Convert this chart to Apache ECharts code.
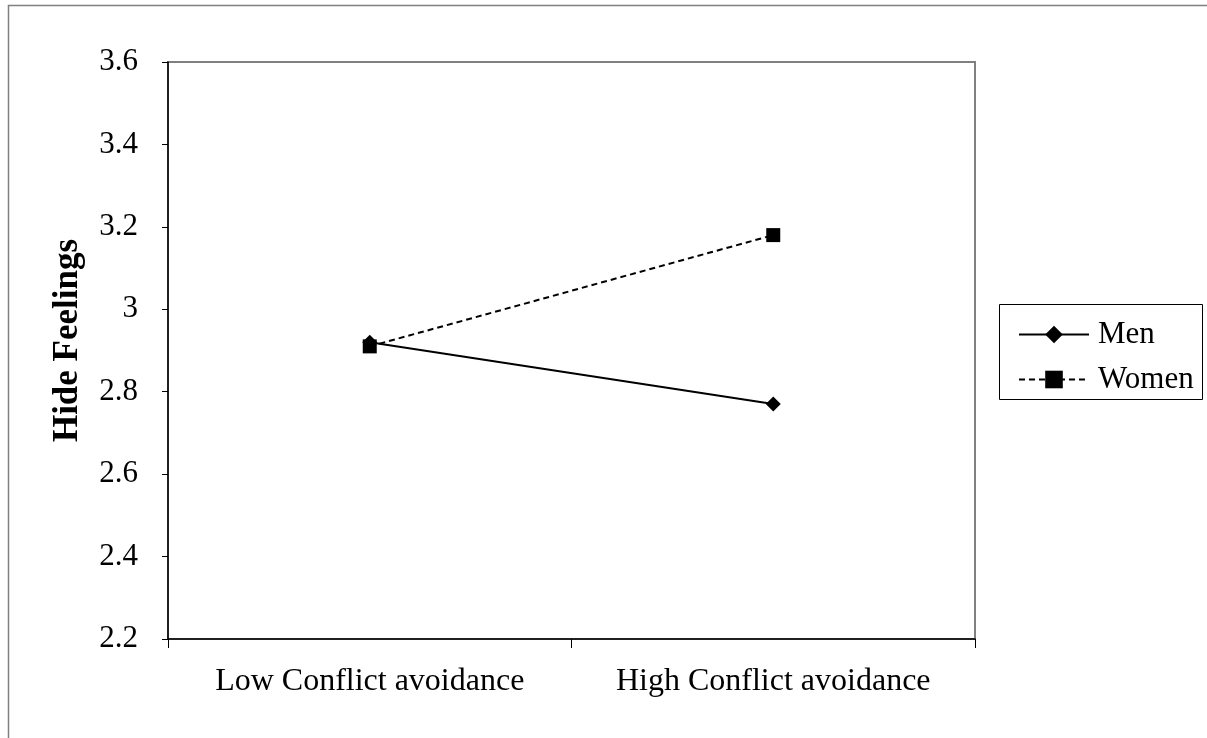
<!DOCTYPE html>
<html>
<head>
<meta charset="utf-8">
<script src="https://cdn.jsdelivr.net/npm/echarts@6/dist/echarts.min.js"></script>
<style>
  html, body { margin: 0; padding: 0; background: #fff; }
  #chart { width: 1207px; height: 738px; }
</style>
</head>
<body>
<div id="chart"></div>
<script>
// data
var categories = ['Low Conflict avoidance', 'High Conflict avoidance'];
var menValues = [2.92, 2.77];
var womenValues = [2.91, 3.18];
var yMin = 2.2, yMax = 3.6, yStep = 0.2;

var serif = '"Liberation Serif", "Times New Roman", serif';

var chart = echarts.init(document.getElementById('chart'));
chart.setOption({
    backgroundColor: '#fff',
    animation: false,
    textStyle: { fontFamily: serif, color: '#000' },
    grid: {
        left: 168, top: 62, right: 232, bottom: 99,
        show: true, borderColor: '#808080', borderWidth: 2,
        backgroundColor: 'transparent'
    },
    graphic: [
        // outer frame (right/bottom edges fall outside the page)
        { type: 'rect', shape: { x: 8.5, y: 5.5, width: 1220, height: 760 },
          style: { fill: null, stroke: '#808080', lineWidth: 1.5 }, silent: true },
        // legend frame
        { type: 'rect', shape: { x: 999.5, y: 304.5, width: 203, height: 95 },
          style: { fill: null, stroke: '#000', lineWidth: 1 }, silent: true }
    ],
    legend: {
        orient: 'vertical',
        left: 1013, top: 314,
        itemWidth: 70, itemHeight: 22,
        itemGap: 14,
        textStyle: { fontFamily: serif, fontSize: 31, color: '#000', padding: [0, 0, 0, 4] },
        data: ['Men', 'Women']
    },
    xAxis: {
        type: 'category',
        data: categories,
        boundaryGap: true,
        axisLine: { lineStyle: { color: '#000', width: 1.5 } },
        axisTick: { show: true, length: 9, interval: 0, lineStyle: { color: '#000' } },
        axisLabel: { fontFamily: serif, fontSize: 32, color: '#000', margin: 27, interval: 0 },
        splitLine: { show: false }
    },
    yAxis: {
        type: 'value',
        min: yMin, max: yMax, interval: yStep,
        name: 'Hide Feelings',
        nameLocation: 'middle',
        nameRotate: 90,
        nameGap: 83,
        nameTextStyle: { fontFamily: serif, fontSize: 35, fontWeight: 'bold', color: '#000',
            padding: [0, 0, 0, 20] },
        axisLine: { show: true, lineStyle: { color: '#000', width: 1.5 } },
        axisTick: { show: true, length: 6, lineStyle: { color: '#000' } },
        axisLabel: { fontFamily: serif, fontSize: 31, color: '#000', margin: 30,
            formatter: function (v) { return String(Math.round(v * 10) / 10); } },
        splitLine: { show: false }
    },
    series: [
        {
            name: 'Men', type: 'line', data: menValues,
            symbol: 'diamond', symbolSize: 15,
            itemStyle: { color: '#000' },
            lineStyle: { color: '#000', width: 2, type: 'solid' }
        },
        {
            name: 'Women', type: 'line', data: womenValues,
            symbol: 'rect', symbolSize: 14,
            itemStyle: { color: '#000' },
            lineStyle: { color: '#000', width: 2, type: [6, 4] }
        }
    ]
});
</script>
</body>
</html>
